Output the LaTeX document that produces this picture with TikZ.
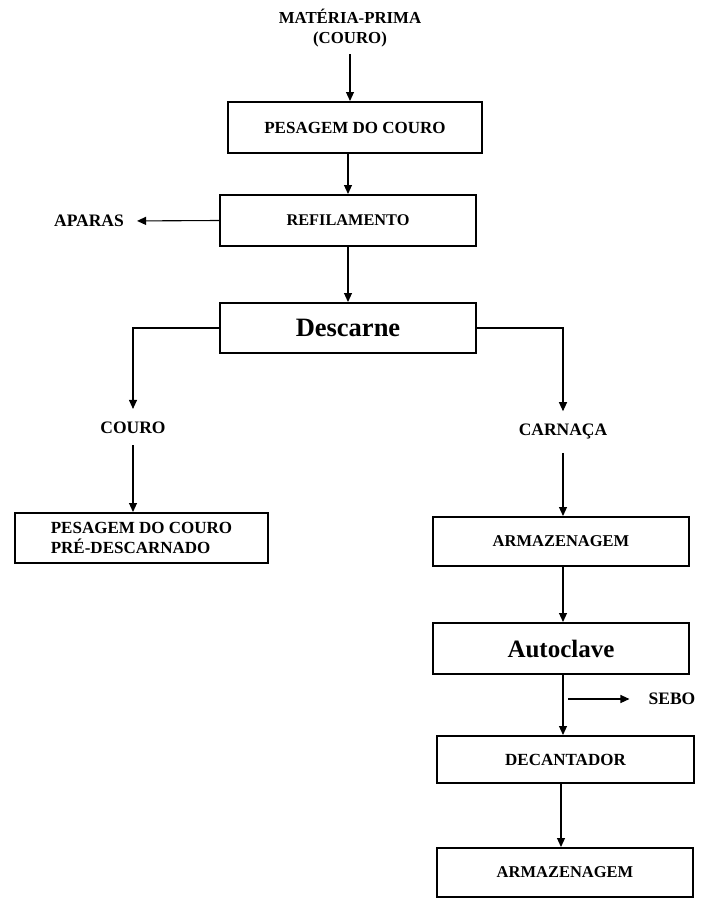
\documentclass[tikz,border=0pt]{standalone}
\usepackage{fontspec}
\setmainfont{Liberation Serif}
\usetikzlibrary{arrows.meta}
\begin{document}
\begin{tikzpicture}[x=1pt,y=-1pt,
  box/.style={draw,line width=2pt,inner sep=0pt,font=\fontsize{17}{20}\selectfont\bfseries},
  lbl/.style={inner sep=0pt,font=\fontsize{17.5}{20}\selectfont\bfseries},
  arr/.style={line width=1.1pt,-{Triangle[length=9pt,width=8pt]}}]
\useasboundingbox (0,0) rectangle (701,899);
% nodes
\node[lbl,align=center,font=\fontsize{16.8}{20}\selectfont\bfseries] (mp) at (350,28) {MATÉRIA-PRIMA\\(COURO)};
\node[box,minimum width=254pt,minimum height=51pt] (pes) at (355,127.5) {PESAGEM DO COURO};
\node[box,minimum width=256pt,minimum height=51pt,font=\fontsize{16.3}{20}\selectfont\bfseries] (ref) at (348,220.5) {REFILAMENTO};
\node[lbl] (apa) at (89,221) {APARAS};
\node[box,minimum width=256pt,minimum height=50pt,font=\fontsize{26.5}{30}\selectfont\bfseries] (desc) at (348,328) {Descarne};
\node[lbl] (cou) at (133,428) {COURO};
\node[box,minimum width=253pt,minimum height=50pt,align=left] (pre) at (141.5,538) {PESAGEM DO COURO\\PRÉ-DESCARNADO};
\node[lbl] (car) at (563,432) {CARNAÇA};
\node[box,minimum width=256pt,minimum height=49pt,font=\fontsize{16.5}{20}\selectfont\bfseries] (arm1) at (561,541.5) {ARMAZENAGEM};
\node[box,minimum width=256pt,minimum height=51pt,font=\fontsize{25}{30}\selectfont\bfseries] (auto) at (561,648.5) {Autoclave};
\node[lbl] (sebo) at (672,699) {SEBO};
\node[box,minimum width=257pt,minimum height=47pt] (dec) at (565.5,759.5) {DECANTADOR};
\node[box,minimum width=256pt,minimum height=49pt,font=\fontsize{16.5}{20}\selectfont\bfseries] (arm2) at (565,872.5) {ARMAZENAGEM};
\coordinate (sebostart) at (568,699);
% connectors
\draw[arr,shorten <=7pt] (mp.south) -- (mp.south |- pes.north);
\draw[arr] (pes.south -| ref.north) -- (ref.north);
\draw[arr,shorten >=13pt] (ref.west) -- (apa.east);
\draw[arr] (ref.south) -- (desc.north);
\draw[arr,shorten >=13pt] (desc.west) -| (cou.north);
\draw[arr,shorten <=11pt] (cou.south) -- (cou.south |- pre.north);
\draw[arr,shorten >=13pt] (desc.east) -| (car.north);
\draw[arr,shorten <=13pt] (car.south) -- (car.south |- arm1.north);
\draw[arr] (arm1.south -| car.south) -- (car.south |- auto.north);
\draw[arr] (auto.south -| car.south) -- (car.south |- dec.north);
\draw[arr,shorten >=19pt] (sebostart) -- (sebo.west);
\draw[arr] (dec.south -| auto.south) -- (auto.south |- arm2.north);
\end{tikzpicture}
\end{document}
